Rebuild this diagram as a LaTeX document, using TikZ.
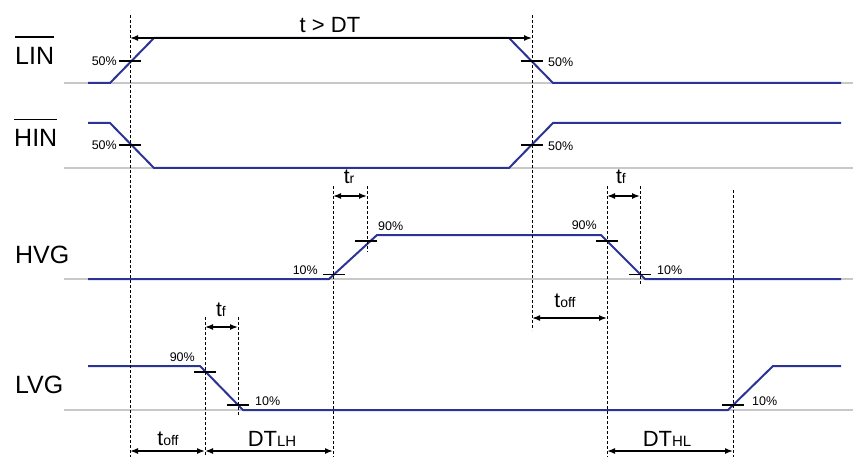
\documentclass[tikz,border=0pt]{standalone}
\usepackage{fontspec}
\setmainfont{Liberation Sans}
\usetikzlibrary{arrows.meta}
\definecolor{sig}{HTML}{2B3494}
\definecolor{gridgray}{HTML}{C8C8C8}
\newlength\barlen
\newcommand\barred[1]{\settowidth\barlen{#1}\rlap{\rule[1.08em]{\barlen}{0.06em}}#1}
\newcommand\tsub[2]{#1{\fontsize{14}{14}\selectfont #2}}
\begin{document}
\begin{tikzpicture}[x=1pt,y=-1pt,
 sigline/.style={draw=sig,line width=2pt,line join=miter},
 gridline/.style={draw=gridgray,line width=1.2pt},
 dashline/.style={draw=black,line width=0.8pt,dash pattern=on 3pt off 2pt},
 tickmark/.style={draw=black,line width=1.5pt},
 dimarrow/.style={draw=black,line width=1.5pt,{Latex[length=8pt,width=6pt]}-{Latex[length=8pt,width=6pt]}},
 siglabel/.style={anchor=base west,inner sep=0pt,font=\fontsize{25}{30}\selectfont},
 pct/.style={inner sep=0pt,font=\fontsize{12.5}{15}\selectfont},
 tlabel/.style={anchor=base,inner sep=0pt,font=\fontsize{21}{25}\selectfont}]
\useasboundingbox (0,0) rectangle (853,457);

% grey low-level lines
\draw[gridline] (64,83) -- (853,83);
\draw[gridline] (64,168) -- (853,168);
\draw[gridline] (64,279) -- (853,279);
\draw[gridline] (64,410) -- (853,410);

% signals
\draw[sigline] (88,83) -- (110,83) -- (154,38) -- (509,38) -- (553,83) -- (841,83);
\draw[sigline] (88,123) -- (110,123) -- (154,168) -- (509,168) -- (553,123) -- (841,123);
\draw[sigline] (88,279) -- (329,279) -- (377,235) -- (601,235) -- (645,279) -- (841,279);
\draw[sigline] (88,366) -- (200,366) -- (243,410) -- (728,410) -- (773,366) -- (841,366);

% signal names
\node[siglabel] (lin) at (15,65) {\barred{LIN}};
\node[siglabel] (hin) at (14,147) {\barred{HIN}};
\node[siglabel] (hvg) at (15,263) {HVG};
\node[siglabel] (lvg) at (15,393) {LVG};

% dashed reference lines
\coordinate (d1t) at (130,15);  \coordinate (d1b) at (130,457);
\coordinate (d2t) at (532,15);  \coordinate (d2b) at (532,330);
\coordinate (d3t) at (333,186); \coordinate (d3b) at (333,457);
\coordinate (d4t) at (367,186); \coordinate (d4b) at (367,252);
\coordinate (d5t) at (607,186); \coordinate (d5b) at (607,457);
\coordinate (d6t) at (640,186); \coordinate (d6b) at (640,285);
\coordinate (d7t) at (733,190); \coordinate (d7b) at (733,457);
\coordinate (d8t) at (205,317); \coordinate (d8b) at (205,457);
\coordinate (d9t) at (238,317); \coordinate (d9b) at (238,415);
\foreach \i in {1,...,9} {\draw[dashline] (d\i t) -- (d\i b);}

% threshold ticks
\foreach \x/\y in {130/61,532/61,130/145,532/145,333.5/274.5,366/241,607/241,640/274.5,205/372,238/405,733/405}
  {\draw[tickmark] (\x-11,\y) -- (\x+11,\y);}

% percentage labels
\node[pct,anchor=east] (p1) at (117,61) {50\%};
\node[pct,anchor=west] (p2) at (548,62) {50\%};
\node[pct,anchor=east] (p3) at (117,145) {50\%};
\node[pct,anchor=west] (p4) at (548,146) {50\%};
\node[pct,anchor=east] (p5) at (318,270) {10\%};
\node[pct,anchor=west] (p6) at (378,226) {90\%};
\node[pct,anchor=east] (p7) at (597,225) {90\%};
\node[pct,anchor=west] (p8) at (657,270) {10\%};
\node[pct,anchor=east] (p9) at (195,357) {90\%};
\node[pct,anchor=west] (p10) at (255,401) {10\%};
\node[pct,anchor=west] (p11) at (752,401) {10\%};

% dimension arrows
\coordinate (a1l) at (130,38);  \coordinate (a1r) at (532,38);
\coordinate (a2l) at (333,196); \coordinate (a2r) at (367,196);
\coordinate (a3l) at (607,196); \coordinate (a3r) at (640,196);
\coordinate (a4l) at (532,318); \coordinate (a4r) at (607,318);
\coordinate (a5l) at (205,327); \coordinate (a5r) at (238,327);
\coordinate (a6l) at (130,451); \coordinate (a6r) at (205,451);
\coordinate (a7l) at (205,451); \coordinate (a7r) at (333,451);
\coordinate (a8l) at (607,451); \coordinate (a8r) at (733,451);
\foreach \i in {1,...,8} {\draw[dimarrow] (a\i l) -- (a\i r);}

% time labels
\node[tlabel,font=\fontsize{22}{26}\selectfont] (tdt) at (330,33) {t > DT};
\node[tlabel] (tr) at (349,183) {\tsub{t}{r}};
\node[tlabel] (tf1) at (621,183) {\tsub{t}{f}};
\node[tlabel] (toff1) at (565,307) {\tsub{t}{off}};
\node[tlabel] (tf2) at (221,316) {\tsub{t}{f}};
\node[tlabel] (toff2) at (168,445) {\tsub{t}{off}};
\node[tlabel,font=\fontsize{22}{26}\selectfont] (dtlh) at (272,446) {DT{\fontsize{15}{15}\selectfont LH}};
\node[tlabel,font=\fontsize{22}{26}\selectfont] (dthl) at (667,446) {DT{\fontsize{15}{15}\selectfont HL}};
\end{tikzpicture}
\end{document}
